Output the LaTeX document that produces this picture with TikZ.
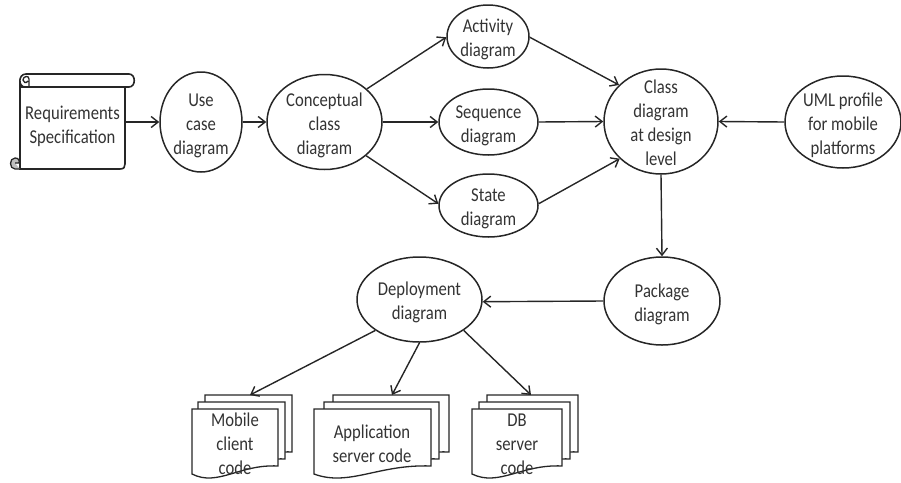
\documentclass[tikz,border=0pt]{standalone}
\usepackage{fontspec}
\setmainfont[FakeStretch=0.85]{Carlito}
\usetikzlibrary{shapes.geometric,arrows.meta}
\colorlet{ink}{black!85}
\newcommand{\ctext}[1]{\makebox[0pt]{\smash{\raisebox{-8.5pt}{\begin{tabular}{@{}c@{}}#1\end{tabular}}}}}
\tikzset{
  x=1pt,y=-1pt,
  txt/.style={inner sep=0pt,font=\fontsize{19.6}{24}\selectfont,text=black!80},
  el/.style={txt,draw=ink,line width=1.5pt,ellipse},
  lb/.style={txt},
  conn/.style={draw=ink,-{Straight Barb[length=7pt,width=11pt]},line width=1.4pt},
  pagesheet/.style={draw=ink,fill=white,line width=1.3pt},
  rollpart/.style={draw=ink,fill=white,line width=1.6pt}
}
\newcommand{\ovalnode}[6]{\node[el,minimum width=#4*2pt,minimum height=#5*2pt] (#1) at (#2,#3) {\ctext{#6}};}
\newcommand{\docpage}[4]{% x1 x2 top rightbottom
  \path[pagesheet] (#1,#3) -- (#2,#3) -- (#2,#4)
   .. controls ({#2-0.45*(#2-#1)},#4-2) and ({#1+0.3*(#2-#1)},#4+21) .. (#1,#4+8) -- cycle;}
\begin{document}
\begin{tikzpicture}
\useasboundingbox (0,0) rectangle (901,482);
% scroll
\path[rollpart] (20,80) -- (20,169) -- (120,169) .. controls (124,169) and (125,167) .. (125,164) -- (125,87) -- (20,87) -- cycle;
\path[rollpart] (26,74) -- (129,74) .. controls (136,74) and (136,87) .. (129,87) -- (25,87) .. controls (18,87) and (18,74) .. (26,74) -- cycle;
\draw[ink,line width=1.3pt] (29,87) -- (29,79) .. controls (29,75) and (23,76) .. (23,80) .. controls (23,82) and (26,84) .. (28,81);
\filldraw[draw=ink,fill=black!25,line width=1.3pt] (20,169) -- (15,169) .. controls (9,169) and (9,158) .. (15,158) .. controls (18,158) and (20,160) .. (19,163) -- (15,163);
\node[lb] (req) at (72.5,123.5) {\ctext{Requirements\\Specification}};
\coordinate (reqE) at (125,122);
% ovals
\ovalnode{uc}{201}{122}{41}{50}{Use\\case\\diagram}
\ovalnode{cc}{324.5}{122}{57.5}{47.5}{Conceptual\\class\\diagram}
\ovalnode{act}{488}{36.5}{41}{31.5}{Activity\\diagram}
\ovalnode{seq}{488.5}{122}{49.5}{33}{Sequence\\diagram}
\ovalnode{st}{488.5}{205.5}{49.5}{31.5}{State\\diagram}
\ovalnode{cd}{661}{121.5}{57}{52.5}{Class\\diagram\\at design\\level}
\ovalnode{uml}{843}{122}{58}{46}{UML profile\\for mobile\\platforms}
\ovalnode{pk}{662}{301}{58}{44}{Package\\diagram}
\ovalnode{dp}{419.5}{299.5}{62.5}{42.5}{Deployment\\diagram}
% stacks
\docpage{205}{292}{395}{452}\docpage{198}{285}{402}{459}\docpage{192}{278}{409}{466}
\docpage{333}{449}{395}{452}\docpage{324}{439}{402}{459}\docpage{314}{431}{409}{466}
\docpage{487}{578}{395}{452}\docpage{479}{570}{402}{459}\docpage{472}{562}{409}{466}
\node[lb] (mc) at (235,442) {\ctext{Mobile\\client\\code}};
\node[lb] (as) at (372,442) {\ctext{Application\\server code}};
\node[lb] (db) at (517,442) {\ctext{DB\\server\\code}};
\coordinate (mcT) at (250,395);
\coordinate (asT) at (392,395);
\coordinate (dbT) at (531,395);
% connectors
\draw[conn] (reqE) -- (uc.180);
\draw[conn] (uc.0) -- (cc.180);
\draw[conn] (cc.38.9) -- (act.181);
\draw[conn] (cc.0) -- (seq.180);
\draw[conn] (cc.-39.7) -- (st.178);
\draw[conn] (act.-1) -- (cd.139);
\draw[conn] (seq.0) -- (cd.180);
\draw[conn] (st.2) -- (cd.222.5);
\draw[conn] (uml.180) -- (cd.0);
\draw[conn] (cd.-90) -- (pk.90);
\draw[conn] (pk.180) -- (dp.358);
\draw[conn] (dp.215.3) -- (mcT);
\draw[conn] (dp.270) -- (asT);
\draw[conn] (dp.-35.3) -- (dbT);
\end{tikzpicture}
\end{document}
